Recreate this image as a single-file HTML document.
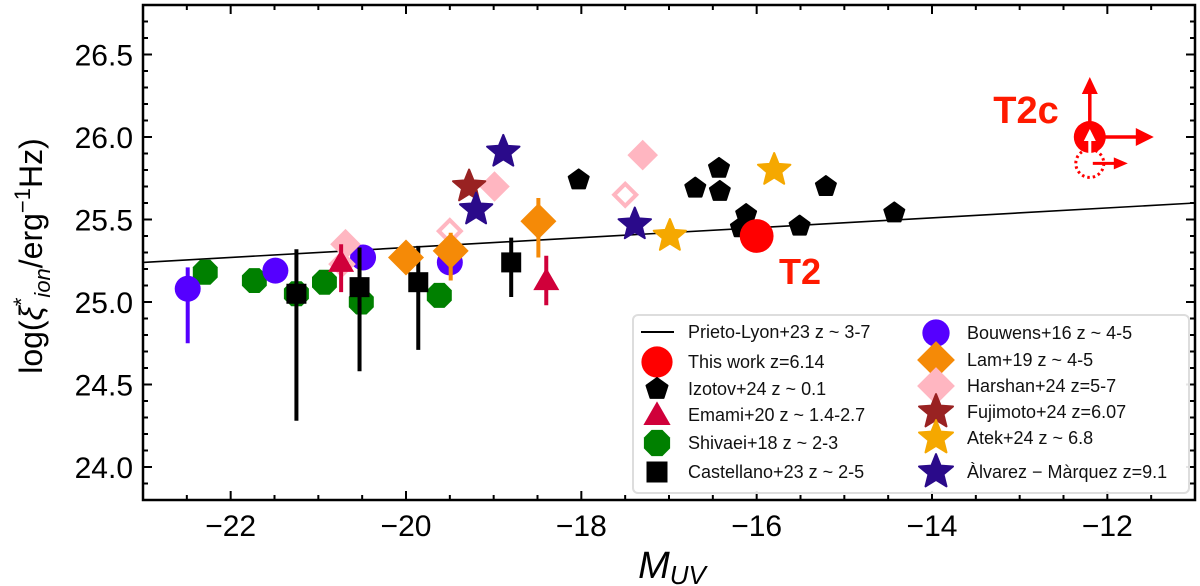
<!DOCTYPE html>
<html><head><meta charset="utf-8"><style>
body{margin:0;background:#fff;}
svg{display:block;font-family:"Liberation Sans","DejaVu Sans",sans-serif;}
</style></head><body>
<svg id="chart" width="1200" height="586" viewBox="0 0 1200 586" xmlns="http://www.w3.org/2000/svg">
<g id="marks"></g>
<g id="axes"></g>
<g id="legend"></g>
</svg>
<script>
// ---- data ----
const lineX = [-23, -11];
const lineY = [25.24, 25.60];
const bouwensX = [-22.49, -21.49, -20.49, -19.50];
const bouwensY = [25.08, 25.19, 25.27, 25.24];
const bouwensErrLo = [24.75, null, null, null];
const bouwensErrHi = [25.21, null, null, null];
const shivaeiX = [-22.29, -21.73, -21.25, -20.93, -20.51, -19.62];
const shivaeiY = [25.18, 25.13, 25.05, 25.12, 25.00, 25.04];
const castX = [-21.25, -20.53, -19.86, -18.80];
const castY = [25.05, 25.09, 25.12, 25.24];
const castLo = [24.28, 24.58, 24.71, 25.03];
const castHi = [25.32, 25.33, 25.34, 25.39];
const emamiX = [-20.74, -18.40];
const emamiY = [25.24, 25.13];
const emamiLo = [25.06, 24.98];
const emamiHi = [25.35, 25.28];
const lamX = [-20.00, -19.49, -18.49];
const lamY = [25.27, 25.31, 25.49];
const lamLo = [null, 25.13, 25.27];
const lamHi = [null, 25.42, 25.63];
const harshanX = [-20.69, -18.99, -17.30];
const harshanY = [25.35, 25.70, 25.89];
const harshanOpenX = [-20.73, -19.50, -17.50];
const harshanOpenY = [25.23, 25.43, 25.65];
const fujiX = [-19.28];
const fujiY = [25.70];
const alvX = [-18.89, -19.20, -17.39];
const alvY = [25.91, 25.56, 25.47];
const atekX = [-16.99, -15.80];
const atekY = [25.40, 25.80];
const izotovX = [-18.03, -16.70, -16.43, -16.42, -16.12, -16.18, -15.51, -15.21, -14.43];
const izotovY = [25.74, 25.69, 25.81, 25.67, 25.53, 25.45, 25.46, 25.70, 25.54];
const t2X = [-16.00];
const t2Y = [25.40];
const t2cX = [-12.20];
const t2cY = [26.00];
const t2cDotX = [-12.20];
const t2cDotY = [25.84];
const xTicks = [-22, -20, -18, -16, -14, -12];
const xTickLabels = ["\u221222", "\u221220", "\u221218", "\u221216", "\u221214", "\u221212"];
const yTicks = [24.0, 24.5, 25.0, 25.5, 26.0, 26.5];
const yTickLabels = ["24.0", "24.5", "25.0", "25.5", "26.0", "26.5"];

// ---- axes functions ----
const L=143,R=1195,T=5,B=500, X0=-23,X1=-11,Y0=23.8,Y1=26.8;
const sx=v=>L+(v-X0)/(X1-X0)*(R-L);
const sy=v=>B-(v-Y0)/(Y1-Y0)*(B-T);
const NS="http://www.w3.org/2000/svg";
function mk(parent,tag,attrs){const e=document.createElementNS(NS,tag);for(const k in attrs)e.setAttribute(k,attrs[k]);parent.appendChild(e);return e;}
const marks=document.getElementById('marks');
const axes=document.getElementById('axes');
const legend=document.getElementById('legend');

function polyPts(cx,cy,r,n,rot,inner){let p=[];const m=inner?2*n:n;for(let i=0;i<m;i++){const a=rot+i*2*Math.PI/m;const rr=inner&&i%2?inner:r;p.push((cx+rr*Math.cos(a)).toFixed(1)+","+(cy+rr*Math.sin(a)).toFixed(1));}return p.join(" ");}
function marker(g,type,cx,cy,color,s){
  s=s||1;let e;
  if(type==='circle') e=mk(g,'circle',{cx,cy,r:13*s,fill:color});
  else if(type==='oct') e=mk(g,'polygon',{points:polyPts(cx,cy,13.5*s,8,Math.PI/8),fill:color});
  else if(type==='square') e=mk(g,'rect',{x:cx-10*s,y:cy-10*s,width:20*s,height:20*s,fill:color});
  else if(type==='tri') e=mk(g,'polygon',{points:polyPts(cx,cy+2*s,15*s,3,-Math.PI/2),fill:color});
  else if(type==='diamond') e=mk(g,'polygon',{points:polyPts(cx,cy,18*s,4,0),fill:color});
  else if(type==='odiamond') e=mk(g,'polygon',{points:polyPts(cx,cy,11*s,4,0),fill:'none',stroke:color,'stroke-width':4});
  else if(type==='star') e=mk(g,'polygon',{points:polyPts(cx,cy,17*s,5,-Math.PI/2,7.5*s),fill:color,'stroke-linejoin':'round',stroke:color,'stroke-width':2});
  else if(type==='pent') e=mk(g,'polygon',{points:polyPts(cx,cy,10.5*s,5,-Math.PI/2),fill:color,stroke:color,'stroke-width':2,'stroke-linejoin':'round'});
  return e;
}
function errbar(g,x,lo,hi,color,w){ if(lo==null)return; const e=mk(g,'line',{x1:sx(x),x2:sx(x),y1:sy(lo),y2:sy(hi),stroke:color,'stroke-width':w||4});

}
function series(name,type,xs,ys,color,lo,hi,s){
  const g=mk(marks,'g',{});
  
  
  xs.forEach((x,i)=>{
    if(lo) errbar(g,x,lo[i],hi[i],color);
    const m=marker(g,type,sx(x),sy(ys[i]),color,s);
    
    
  });
}
const ln=mk(marks,'line',{x1:sx(lineX[0]),y1:sy(lineY[0]),x2:sx(lineX[1]),y2:sy(lineY[1]),stroke:'#000','stroke-width':1.6});



const C={bou:'#5500ff',shi:'#008000',cas:'#000',ema:'#d0003a',lam:'#f58a07',har:'#ffb6c1',fuj:'#992222',atk:'#f5a800',alv:'#2a0a8a',red:'#ff0000'};
series('shivaei-series','oct',shivaeiX,shivaeiY,C.shi);
series('bouwens-series','circle',bouwensX,bouwensY,C.bou,bouwensErrLo,bouwensErrHi);
series('harshan-filled-series','diamond',harshanX,harshanY,C.har,null,null,0.85);
series('harshan-open-series','odiamond',harshanOpenX,harshanOpenY,C.har);
series('emami-series','tri',emamiX,emamiY,C.ema,emamiLo,emamiHi);
series('castellano-series','square',castX,castY,C.cas,castLo,castHi);
series('lam-series','diamond',lamX,lamY,C.lam,lamLo,lamHi);
series('fujimoto-series','star',fujiX,fujiY,C.fuj);
series('alvarez-series','star',alvX,alvY,C.alv);
series('izotov-series','pent',izotovX,izotovY,C.cas);
series('atek-series','star',atekX,atekY,C.atk);
series('this-work-t2','circle',t2X,t2Y,C.red,null,null,1.3);

(function(){
  const g=mk(marks,'g',{});
  
  
  const cx=sx(t2cX[0]),cy=sy(t2cY[0]),dx=sx(t2cDotX[0]),dy=sy(t2cDotY[0]);
  mk(g,'circle',{cx:dx,cy:dy,r:14,fill:'none',stroke:C.red,'stroke-width':3,'stroke-dasharray':'2.5 3'});
  mk(g,'line',{x1:dx+3,y1:dy,x2:dx+28,y2:dy,stroke:C.red,'stroke-width':3});
  mk(g,'polygon',{points:`${dx+38},${dy} ${dx+24},${dy-6} ${dx+24},${dy+6}`,fill:C.red});
  mk(g,'circle',{cx,cy,r:16,fill:C.red});
  mk(g,'line',{x1:cx,y1:cy,x2:cx,y2:cy-45,stroke:C.red,'stroke-width':3.5});
  mk(g,'polygon',{points:`${cx},${cy-60} ${cx-8},${cy-43} ${cx+8},${cy-43}`,fill:C.red});
  mk(g,'line',{x1:cx,y1:cy,x2:cx+50,y2:cy,stroke:C.red,'stroke-width':3.5});
  mk(g,'polygon',{points:`${cx+64},${cy} ${cx+46},${cy-9} ${cx+46},${cy+9}`,fill:C.red});
  mk(g,'line',{x1:dx,y1:dy+2,x2:dx,y2:cy-2,stroke:'#fff','stroke-width':3});
  mk(g,'polygon',{points:`${dx},${cy-8} ${dx-6},${cy+4} ${dx+6},${cy+4}`,fill:'#fff'});
})();
const lt2=mk(marks,'text',{x:800,y:284,'font-size':36,'font-weight':'bold',fill:'#ff1a00','text-anchor':'middle'});
lt2.textContent='T2';

const lt2c=mk(marks,'text',{x:1026,y:123,'font-size':38,'font-weight':'bold',fill:'#ff1a00','text-anchor':'middle'});
lt2c.textContent='T2c';


mk(axes,'rect',{x:L,y:T,width:R-L,height:B-T,fill:'none',stroke:'#000','stroke-width':2.5});
for(let v=-23;v<=-11.01;v+=0.5){const x=sx(v);const maj=Math.abs(v/2-Math.round(v/2))<1e-6;const len=maj?9:5;
 mk(axes,'line',{x1:x,x2:x,y1:B,y2:B-len,stroke:'#000','stroke-width':2});
 mk(axes,'line',{x1:x,x2:x,y1:T,y2:T+len,stroke:'#000','stroke-width':2});}
for(let k=238;k<=268;k++){const v=k/10;const y=sy(v);const maj=k%5===0;const len=maj?9:5;
 mk(axes,'line',{x1:L,x2:L+len,y1:y,y2:y,stroke:'#000','stroke-width':2});
 mk(axes,'line',{x1:R,x2:R-len,y1:y,y2:y,stroke:'#000','stroke-width':2});}
xTicks.forEach((v,i)=>{const t=mk(axes,'text',{x:sx(v),y:536,'font-size':30,'text-anchor':'middle',fill:'#000'});t.textContent=xTickLabels[i];
 });
yTicks.forEach((v,i)=>{const t=mk(axes,'text',{x:133,y:sy(v)+11,'font-size':30,'text-anchor':'end',fill:'#000'});t.textContent=yTickLabels[i];
 });
const xt=mk(axes,'text',{x:672,y:578,'font-size':38,'font-style':'italic','text-anchor':'middle',fill:'#000'});
xt.innerHTML='M<tspan font-size="26" dy="6">UV</tspan>';

const yt=mk(axes,'text',{x:0,y:0,'font-size':32,'text-anchor':'middle',fill:'#000',transform:'translate(42,256) rotate(-90)'});
yt.innerHTML='log(<tspan font-style="italic">ξ</tspan><tspan font-size="22" dy="-13">*</tspan><tspan font-size="22" font-style="italic" dy="21">ion</tspan><tspan dy="-8">/erg</tspan><tspan font-size="22" dy="-12">−1</tspan><tspan dy="12">Hz)</tspan>';


mk(legend,'rect',{x:633,y:315,width:556,height:178,rx:5,fill:'#fff','fill-opacity':0.9,stroke:'#dddddd','stroke-width':2});
const legItems=[
 ['Prieto-Lyon+23 z ~ 3-7','line','#000',657,332,688],
 ['This work z=6.14','circle',C.red,657,362,688],
 ['Izotov+24 z ~ 0.1','pent','#000',657,389,688],
 ['Emami+20 z ~ 1.4-2.7','tri',C.ema,657,415,688],
 ['Shivaei+18 z ~ 2-3','oct',C.shi,657,443,688],
 ['Castellano+23 z ~ 2-5','square','#000',657,472,688],
 ['Bouwens+16 z ~ 4-5','circle',C.bou,936,333,967],
 ['Lam+19 z ~ 4-5','diamond',C.lam,936,360,967],
 ['Harshan+24 z=5-7','diamond',C.har,936,386,967],
 ['Fujimoto+24 z=6.07','star',C.fuj,936,412,967],
 ['Atek+24 z ~ 6.8','star',C.atk,936,438,967],
 ['Àlvarez − Màrquez z=9.1','star',C.alv,936,472,967]];
legItems.forEach(it=>{
 const g=mk(legend,'g',{});
 
 
 if(it[1]==='line') mk(g,'line',{x1:641,x2:674,y1:it[4],y2:it[4],stroke:'#000','stroke-width':2});
 else marker(g,it[1],it[3],it[4],it[2],it[1]==='circle'&&it[2]===C.red?1.2:1.05);
 const t=mk(g,'text',{x:it[5],y:it[4]+6,'font-size':18,fill:'#111'});t.textContent=it[0];
});
</script>
</body></html>
